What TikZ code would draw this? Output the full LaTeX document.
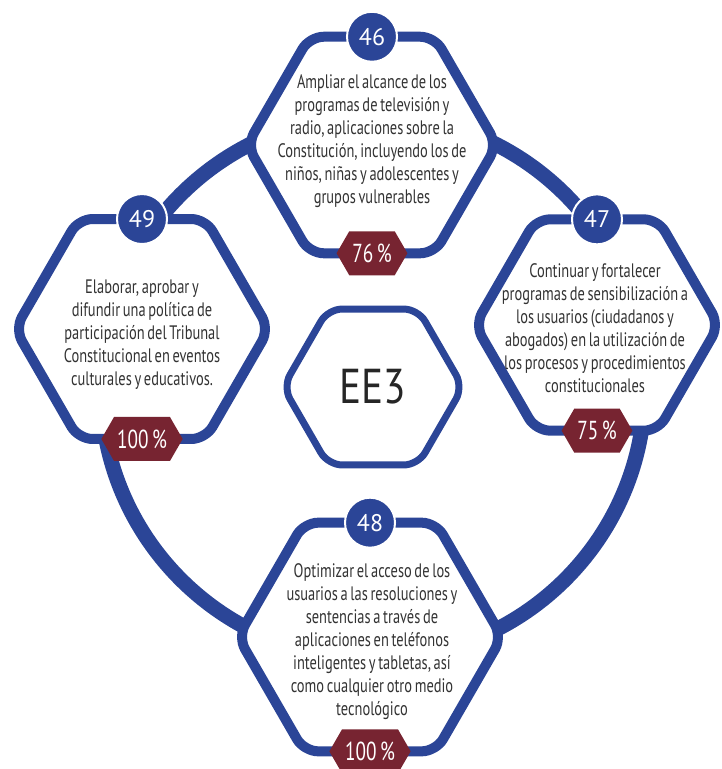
\documentclass[tikz,border=0pt]{standalone}
\usepackage{fontspec}
\setmainfont[FakeStretch=0.74,WordSpace=0.7]{PT Sans}
\newfontfamily\numfont{PT Sans}
\newfontfamily\eefont[FakeStretch=0.84]{PT Sans}
\usetikzlibrary{shapes.geometric,shapes.symbols,positioning}
\definecolor{RingBlue}{HTML}{2B4597}
\definecolor{BadgeRed}{HTML}{772431}
\definecolor{TextGray}{HTML}{333333}

\begin{document}
\begin{tikzpicture}[x=1pt,y=-1pt,
    hexa/.style={regular polygon,regular polygon sides=6,draw=RingBlue,fill=white,
      line width=10pt,rounded corners=14pt,inner sep=0pt,outer sep=0pt},
    numcirc/.style={circle,fill=RingBlue,draw=white,line width=2pt,minimum size=50pt,
      inner sep=0pt,text=white,font=\numfont\fontsize{24}{24}\selectfont},
    badge/.style={signal,signal to=east and west,signal pointer angle=120,fill=BadgeRed,
      text=white,minimum height=44pt,inner xsep=3pt,font=\fontsize{26}{26}\selectfont},
    goal/.style={align=center,text=TextGray,font=\fontsize{19.5}{23}\selectfont}]
  \useasboundingbox (0,0) rectangle (722,769);
  \coordinate (mid) at (373,387);
  % ring behind the hexagons
  \draw[RingBlue,line width=15pt] (mid) circle[radius=272pt];
  % hexagons
  \node[hexa,minimum size=180pt,line width=7pt] (ee) at (mid) {};
  \node[hexa,minimum size=250pt] (h46) at (372,145) {};
  \node[hexa,minimum size=254pt] (h49) at (142,329) {};
  \node[hexa,minimum size=244pt] (h47) at (597,325) {};
  \node[hexa,minimum size=264pt] (h48) at (370,637) {};
  \node[font=\eefont\fontsize{49}{49}\selectfont,text=black!85] (eetext) at (ee) {EE3};
  % numbers and percentages
  \foreach \h/\num/\pct in {h46/46/76, h49/49/100, h47/47/75, h48/48/100}{
    \node[numcirc] (n\num) at (\h.north) {\num};
    \node[badge] (p\num) at (\h.south) {\pct\ \%};
  }
  % goal texts
  \node[goal] (t46) at (372,141) {Ampliar el alcance de los\\ programas de televisión y\\ radio, aplicaciones sobre la\\ Constitución, incluyendo los de\\ niños, niñas y adolescentes y\\ grupos vulnerables};
  \node[goal] (t49) at (142,335) {Elaborar, aprobar y\\ difundir una política de\\ participación del Tribunal\\ Constitucional en eventos\\ culturales y educativos.};
  \node[goal] (t47) at (595,328) {Continuar y fortalecer\\ programas de sensibilización a\\ los usuarios (ciudadanos y\\ abogados) en la utilización de\\ los procesos y procedimientos\\ constitucionales};
  \node[goal] (t48) at (372,642) {Optimizar el acceso de los\\ usuarios a las resoluciones y\\ sentencias a través de\\ aplicaciones en teléfonos\\ inteligentes y tabletas, así\\ como cualquier otro medio\\ tecnológico};
\end{tikzpicture}
\end{document}
